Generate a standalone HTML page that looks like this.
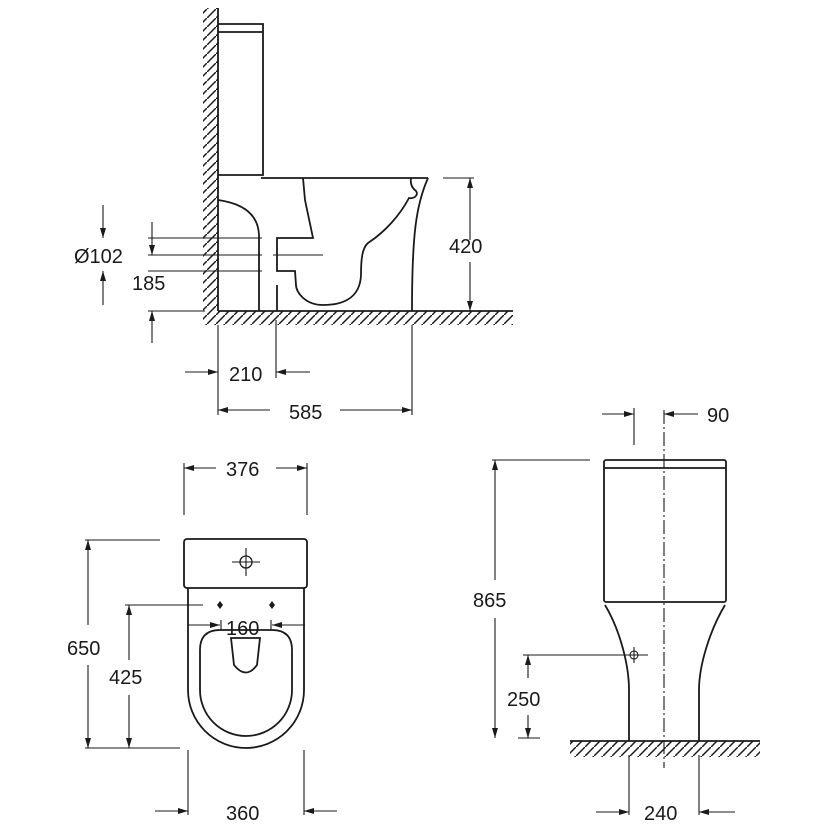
<!DOCTYPE html>
<html><head><meta charset="utf-8"><style>
html,body{margin:0;padding:0;background:#fff}
svg{display:block}
text{font-family:"Liberation Sans",sans-serif;font-size:20px;fill:#1a1a1a}
</style></head><body>
<svg width="829" height="829" viewBox="0 0 829 829" xmlns="http://www.w3.org/2000/svg">
<defs>
<pattern id="h" width="9" height="9" patternUnits="userSpaceOnUse">
<line x1="0" y1="9" x2="9" y2="0" stroke="#1a1a1a" stroke-width="1.5"/>
</pattern>
<marker id="a" viewBox="0 0 10 6" refX="10" refY="3" markerWidth="11" markerHeight="6" orient="auto" markerUnits="userSpaceOnUse">
<path d="M0,0 L10,3 L0,6 z" fill="#1a1a1a"/>
</marker>
</defs>
<g fill="none" stroke="#1a1a1a" stroke-width="1.8">
<!-- SIDE VIEW -->
<rect x="203" y="8" width="15" height="303" fill="url(#h)" stroke="none"/>
<rect x="203" y="311" width="310" height="14" fill="url(#h)" stroke="none"/>
<line x1="218" y1="8" x2="218" y2="311"/>
<line x1="218" y1="311" x2="513" y2="311"/>
<path d="M218,24 H263 V175 H218"/>
<line x1="218" y1="32" x2="263" y2="32"/>
<path d="M261,178 H428"/>
<path d="M428,178 C416,205 412,235 412,311"/>
<path d="M411,178 C410,184 412,188 416,191 C419,195 414,199 409,198 C400,215 385,232 368,243 C362,248 361,260 361,275 C360,300 340,305 323,305 C305,305 296,292 296,285 L295,271 H277 V238 H313 L305,200 L303,178"/>
<line x1="277" y1="285" x2="277" y2="311"/>
<path d="M218,200 C240,203 258,212 259,235 V311"/>
<!-- dims side -->
<g stroke-width="1.1">
<line x1="148" y1="238" x2="262" y2="238"/>
<line x1="148" y1="255" x2="262" y2="255"/>
<line x1="273" y1="255" x2="323" y2="255"/>
<line x1="148" y1="271" x2="262" y2="271"/>
<line x1="103" y1="205" x2="103" y2="238" marker-end="url(#a)"/>
<line x1="103" y1="305" x2="103" y2="271" marker-end="url(#a)"/>
<line x1="152" y1="222" x2="152" y2="255" marker-end="url(#a)"/>
<line x1="152" y1="343" x2="152" y2="311" marker-end="url(#a)"/>
<line x1="148" y1="311" x2="205" y2="311"/>
<line x1="443" y1="178" x2="474" y2="178"/>
<line x1="470" y1="240" x2="470" y2="178" marker-end="url(#a)"/>
<line x1="470" y1="262" x2="470" y2="311" marker-end="url(#a)"/>
<line x1="218" y1="325" x2="218" y2="415"/>
<line x1="276" y1="320" x2="276" y2="378"/>
<line x1="412" y1="325" x2="412" y2="415"/>
<line x1="185" y1="372" x2="218" y2="372" marker-end="url(#a)"/>
<line x1="310" y1="372" x2="276" y2="372" marker-end="url(#a)"/>
<line x1="270" y1="410" x2="218" y2="410" marker-end="url(#a)"/>
<line x1="340" y1="410" x2="412" y2="410" marker-end="url(#a)"/>
</g>
<!-- PLAN VIEW -->
<rect x="184" y="539" width="123" height="49" rx="3"/>
<circle cx="246" cy="562" r="6" stroke-width="1.3"/>
<line x1="232" y1="562" x2="260" y2="562" stroke-width="1.1"/>
<line x1="246" y1="548" x2="246" y2="576" stroke-width="1.1"/>
<path d="M188,588 V690 A58,58 0 0 0 304,690 V588"/>
<path d="M200,650 Q200,630 220,630 H272 Q292,630 292,650 V690 A46,46 0 0 1 200,690 Z"/>
<path d="M231,638 H260 L257,665 Q246,680 234,665 Z"/>
<g stroke-width="1.1">
<line x1="184" y1="463" x2="184" y2="515"/>
<line x1="307" y1="463" x2="307" y2="515"/>
<line x1="216" y1="468" x2="184" y2="468" marker-end="url(#a)"/>
<line x1="276" y1="468" x2="307" y2="468" marker-end="url(#a)"/>
<line x1="85" y1="540" x2="160" y2="540"/>
<line x1="85" y1="748" x2="180" y2="748"/>
<line x1="88" y1="625" x2="88" y2="540" marker-end="url(#a)"/>
<line x1="88" y1="665" x2="88" y2="748" marker-end="url(#a)"/>
<line x1="125" y1="605" x2="203" y2="605"/>
<line x1="129" y1="660" x2="129" y2="605" marker-end="url(#a)"/>
<line x1="129" y1="695" x2="129" y2="748" marker-end="url(#a)"/>
<line x1="188" y1="625" x2="220" y2="625" marker-end="url(#a)"/>
<line x1="305" y1="625" x2="272" y2="625" marker-end="url(#a)"/>
<line x1="221" y1="620" x2="221" y2="630"/>
<line x1="271" y1="620" x2="271" y2="630"/>
<line x1="188" y1="750" x2="188" y2="815"/>
<line x1="304" y1="750" x2="304" y2="815"/>
<line x1="155" y1="811" x2="188" y2="811" marker-end="url(#a)"/>
<line x1="337" y1="811" x2="304" y2="811" marker-end="url(#a)"/>
</g>
<path d="M220,601 L223,605 L220,609 L217,605 Z M272,601 L275,605 L272,609 L269,605 Z" fill="#1a1a1a" stroke="none"/>
<!-- FRONT VIEW -->
<rect x="570" y="741" width="190" height="16" fill="url(#h)" stroke="none"/>
<line x1="570" y1="741" x2="760" y2="741"/>
<rect x="604" y="460" width="122" height="142" rx="2"/>
<line x1="604" y1="468" x2="726" y2="468"/>
<path d="M605,605 C620,630 629,665 629,690 V741"/>
<path d="M725,605 C710,630 699,665 699,690 V741"/>
<line x1="664" y1="410" x2="664" y2="768" stroke-width="1.1" stroke-dasharray="14,3,2,3"/>
<circle cx="634" cy="655" r="4" stroke-width="1.1"/>
<g stroke-width="1.1">
<line x1="626" y1="655" x2="648" y2="655"/>
<line x1="634" y1="647" x2="634" y2="663"/>
<line x1="523" y1="655" x2="626" y2="655"/>
<line x1="528" y1="678" x2="528" y2="655" marker-end="url(#a)"/>
<line x1="528" y1="715" x2="528" y2="738" marker-end="url(#a)"/>
<line x1="518" y1="738" x2="540" y2="738"/>
<line x1="492" y1="460" x2="590" y2="460"/>
<line x1="495" y1="580" x2="495" y2="460" marker-end="url(#a)"/>
<line x1="495" y1="618" x2="495" y2="738" marker-end="url(#a)"/>
<line x1="634" y1="408" x2="634" y2="445"/>
<line x1="602" y1="414" x2="634" y2="414" marker-end="url(#a)"/>
<line x1="698" y1="414" x2="664" y2="414" marker-end="url(#a)"/>
<line x1="629" y1="755" x2="629" y2="815"/>
<line x1="699" y1="755" x2="699" y2="815"/>
<line x1="596" y1="812" x2="629" y2="812" marker-end="url(#a)"/>
<line x1="735" y1="812" x2="699" y2="812" marker-end="url(#a)"/>
</g>
</g>
<text x="74" y="263">Ø102</text>
<text x="132" y="290">185</text>
<text x="449" y="253">420</text>
<text x="229" y="381">210</text>
<text x="289" y="419">585</text>
<text x="226" y="476">376</text>
<text x="226" y="635">160</text>
<text x="67" y="655">650</text>
<text x="109" y="684">425</text>
<text x="226" y="820">360</text>
<text x="707" y="422">90</text>
<text x="473" y="607">865</text>
<text x="507" y="706">250</text>
<text x="644" y="820">240</text>
</svg>
</body></html>
